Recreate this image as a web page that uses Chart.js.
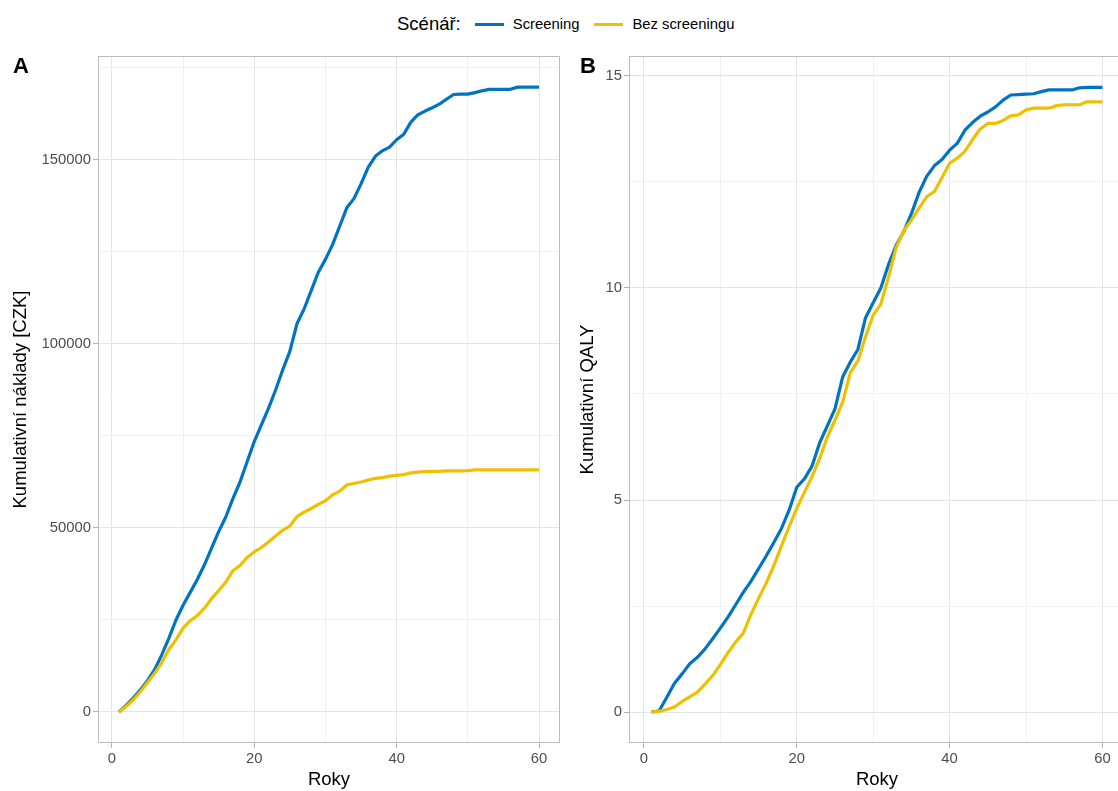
<!DOCTYPE html>
<html lang="cs">
<head>
<meta charset="utf-8">
<title>Kumulativní náklady a QALY</title>
<script src="https://cdn.jsdelivr.net/npm/chart.js@4.4.1/dist/chart.umd.min.js"></script>
<style>
html,body{margin:0;padding:0;background:#fff;overflow:hidden;}
body{width:1118px;height:791px;position:relative;font-family:"Liberation Sans",Arial,sans-serif;}
#legend{position:absolute;left:397px;top:12px;height:24px;display:flex;align-items:center;white-space:nowrap;color:#000;}
#legend .title{font-size:18.5px;margin-right:14px;}
#legend .key{width:29px;height:3px;margin-right:9px;}
#legend .lab{font-size:14.8px;margin-right:15px;}
canvas{position:absolute;top:0;}
#chartA{left:0;}
#chartB{left:570px;}
</style>
</head>
<body>
<div id="legend"></div>
<canvas id="chartA" width="570" height="791"></canvas>
<canvas id="chartB" width="565" height="791"></canvas>
<script>
const years = [1,2,3,4,5,6,7,8,9,10,11,12,13,14,15,16,17,18,19,20,
21,22,23,24,25,26,27,28,29,30,31,32,33,34,35,36,37,38,39,40,
41,42,43,44,45,46,47,48,49,50,51,52,53,54,55,56,57,58,59,60];

// cumulative costs [CZK]
const costScreening = [0,1800,3800,6000,8500,11500,15500,20000,25000,29000,
32500,36000,40000,44500,49000,53000,58000,62500,68000,73500,
78000,82500,87500,93000,98000,105500,109500,114500,119500,123000,
127000,132000,137000,139500,143500,148000,151000,152500,153500,155500,
157000,160300,162300,163300,164200,165200,166500,167800,167900,167900,
168300,168800,169200,169200,169200,169200,169800,169800,169800,169800];
const costNoScreening = [0,1500,3300,5500,8000,10500,13300,17000,19600,22800,
24800,26200,28200,30800,33000,35300,38400,39800,42000,43500,
44700,46200,47800,49400,50500,53100,54300,55300,56400,57400,
59000,60000,61700,62100,62500,63000,63500,63700,64100,64300,
64500,65000,65200,65300,65400,65400,65500,65500,65500,65600,
65800,65800,65800,65800,65800,65800,65800,65800,65800,65800];

// cumulative QALY
const qalyScreening = [0,0.03,0.35,0.68,0.90,1.14,1.29,1.49,1.73,1.98,
2.24,2.53,2.82,3.08,3.38,3.68,4.0,4.33,4.76,5.3,
5.5,5.8,6.35,6.75,7.15,7.9,8.25,8.55,9.3,9.65,
10.0,10.55,11.0,11.33,11.75,12.25,12.63,12.88,13.03,13.25,
13.41,13.72,13.9,14.05,14.15,14.27,14.43,14.55,14.56,14.57,
14.58,14.63,14.67,14.67,14.67,14.67,14.72,14.73,14.73,14.73];
const qalyNoScreening = [0,0.02,0.06,0.12,0.25,0.36,0.47,0.66,0.86,1.12,
1.40,1.65,1.86,2.30,2.68,3.04,3.45,3.92,4.37,4.8,
5.18,5.55,5.98,6.48,6.88,7.3,8.0,8.28,8.85,9.36,
9.62,10.25,10.95,11.35,11.6,11.88,12.15,12.27,12.6,12.94,
13.06,13.22,13.5,13.75,13.88,13.88,13.95,14.06,14.08,14.2,
14.24,14.24,14.24,14.3,14.32,14.32,14.32,14.39,14.39,14.39];

const seriesNames = ["Screening", "Bez screeningu"];
const seriesColors = ["#0073C2", "#EFC000"];

// labelled ticks and all grid positions (major + minor)
const yearTicks = [0, 20, 40, 60];
const yearGrid = [0, 10, 20, 30, 40, 50, 60];
const costTicks = [0, 50000, 100000, 150000];
const costGrid = [0, 25000, 50000, 75000, 100000, 125000, 150000, 175000];
const qalyTicks = [0, 5, 10, 15];
const qalyGrid = [0, 2.5, 5, 7.5, 10, 12.5, 15];

const FONT = "'Liberation Sans', Arial, sans-serif";
const GRID_MAJOR = "#e4e4e4";
const GRID_MINOR = "#f1f1f1";
const TICK_COL = "#b3b3b3";

// legend on top, shared by both panels
(function buildLegend(){
  let lg = document.getElementById("legend");
  let t = document.createElement("span");
  t.className = "title";
  t.textContent = "Scénář:";
  lg.appendChild(t);
  seriesNames.forEach((name,i)=>{
    let k = document.createElement("span");
    k.className = "key";
    k.style.background = seriesColors[i];
    lg.appendChild(k);
    let l = document.createElement("span");
    l.className = "lab";
    l.textContent = name;
    lg.appendChild(l);
  });
})();

// border around the plot area + panel letter
const panelFrame = {
  id: "panelFrame",
  afterDatasetsDraw(chart, args, opts){
    const a = chart.chartArea, ctx = chart.ctx;
    ctx.save();
    ctx.strokeStyle = "#bcbcbc";
    ctx.lineWidth = 1;
    ctx.strokeRect(Math.round(a.left) + 0.5, Math.round(a.top) + 0.5,
      Math.round(a.right - a.left) - 1, Math.round(a.bottom - a.top) - 1);
    ctx.fillStyle = "#000";
    ctx.font = "bold 22px " + FONT;
    ctx.textBaseline = "alphabetic";
    ctx.fillText(opts.tag, opts.tagX, 73);
    ctx.restore();
  }
};

function toPoints(vals){
  return years.map((y,i)=>({x:y, y:vals[i]}));
}

function makePanel(id, cfg){
  const isMajorX = v => yearTicks.includes(v);
  const isMajorY = v => cfg.yLabels.includes(v);
  return new Chart(document.getElementById(id), {
    type: "line",
    data: {
      datasets: [
        { label: seriesNames[0], data: toPoints(cfg.a), borderColor: seriesColors[0], order: 1 },
        { label: seriesNames[1], data: toPoints(cfg.b), borderColor: seriesColors[1], order: 0 }
      ]
    },
    options: {
      responsive: false,
      animation: false,
      events: [],
      layout: { padding: { top: 56, right: 10, left: 0, bottom: 0 } },
      elements: {
        point: { radius: 0 },
        line: { borderWidth: 3.2, tension: 0, fill: false, borderJoinStyle: "round" }
      },
      plugins: {
        legend: { display: false },
        tooltip: { enabled: false },
        panelFrame: { tag: cfg.tag, tagX: cfg.tagX }
      },
      scales: {
        x: {
          type: "linear",
          min: -1.95, max: 62.95,
          afterBuildTicks(s){ s.ticks = yearGrid.map(v=>({value:v})); },
          afterFit(s){ s.height = 48; },
          border: { display: false },
          grid: {
            color: c => isMajorX(c.tick.value) ? GRID_MAJOR : GRID_MINOR,
            tickColor: c => isMajorX(c.tick.value) ? TICK_COL : "rgba(0,0,0,0)",
            tickLength: 5
          },
          ticks: {
            autoSkip: false, maxRotation: 0,
            padding: 2, color: "#4d4d4d", font: { family: FONT, size: 14.8 },
            callback: v => isMajorX(v) ? String(v) : ""
          },
          title: { display: true, text: "Roky", color: "#000", padding: { top: 0, bottom: 0 },
            font: { family: FONT, size: 18.5 } }
        },
        y: {
          min: cfg.yMin, max: cfg.yMax,
          afterBuildTicks(s){ s.ticks = cfg.yGrid.map(v=>({value:v})); },
          afterFit(s){ s.width = cfg.axisWidth; },
          border: { display: false },
          grid: {
            color: c => isMajorY(c.tick.value) ? GRID_MAJOR : GRID_MINOR,
            tickColor: c => isMajorY(c.tick.value) ? TICK_COL : "rgba(0,0,0,0)",
            tickLength: 5
          },
          ticks: {
            autoSkip: false,
            padding: 2, color: "#4d4d4d", font: { family: FONT, size: 14.8 },
            callback: v => isMajorY(v) ? String(v) : ""
          },
          title: { display: true, text: cfg.yTitle, color: "#000", padding: { top: cfg.titlePad, bottom: 0 },
            font: { family: FONT, size: 18.5 } }
        }
      }
    },
    plugins: [panelFrame]
  });
}

makePanel("chartA", {
  a: costScreening, b: costNoScreening,
  yMin: -8425, yMax: 178260, yGrid: costGrid, yLabels: costTicks,
  yTitle: "Kumulativní náklady [CZK]", axisWidth: 98, titlePad: 10,
  tag: "A", tagX: 13
});

makePanel("chartB", {
  a: qalyScreening, b: qalyNoScreening,
  yMin: -0.73, yMax: 15.47, yGrid: qalyGrid, yLabels: qalyTicks,
  yTitle: "Kumulativní QALY", axisWidth: 59, titlePad: 7,
  tag: "B", tagX: 10
});
</script>
</body>
</html>
